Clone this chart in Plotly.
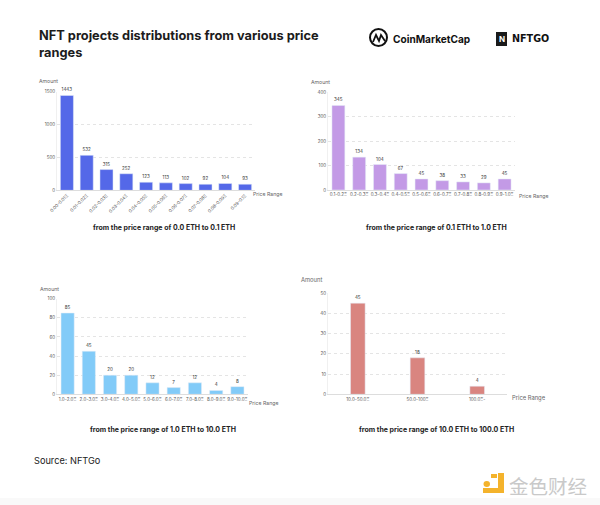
import plotly.graph_objects as go

cats1 = ["0.00-0.01Ξ","0.01-0.02Ξ","0.02-0.03Ξ","0.03-0.04Ξ","0.04-0.05Ξ","0.05-0.06Ξ","0.06-0.07Ξ","0.07-0.08Ξ","0.08-0.09Ξ","0.09-0.1Ξ"]
vals1 = [1443,532,315,252,123,113,102,92,104,93]
cats2 = ["0.1-0.2Ξ","0.2-0.3Ξ","0.3-0.4Ξ","0.4-0.5Ξ","0.5-0.6Ξ","0.6-0.7Ξ","0.7-0.8Ξ","0.8-0.9Ξ","0.9-1.0Ξ"]
vals2 = [345,134,104,67,45,38,33,29,45]
cats3 = ["1.0-2.0Ξ","2.0-3.0Ξ","3.0-4.0Ξ","4.0-5.0Ξ","5.0-6.0Ξ","6.0-7.0Ξ","7.0-8.0Ξ","8.0-9.0Ξ","9.0-10.0Ξ"]
vals3 = [85,45,20,20,12,7,12,4,8]
cats4 = ["10.0-50.0Ξ","50.0-100Ξ","100.0Ξ-"]
vals4 = [45,18,4]
subtitles = ["from the price range of 0.0 ETH to 0.1 ETH","from the price range of 0.1 ETH to 1.0 ETH",
             "from the price range of 1.0 ETH to 10.0 ETH","from the price range of 10.0 ETH to 100.0 ETH"]

W, H = 600, 505
FONT = "Inter, Noto Sans, sans-serif"
TXT = "#333"
panels = [
    dict(c=cats1, v=vals1, col="#5468E8", x=(57,255), y=(91.7,190.3), top=1500, dt=500, rot=-45, gap=0.34, sub=(164,228), amt=(48,80.7), pr=(268,194), ls=5.2),
    dict(c=cats2, v=vals2, col="#C39AE6", x=(328,515), y=(92,190), top=400, dt=100, rot=0, gap=0.38, sub=(436.5,228), amt=(320,82.3), pr=(534,195.7), ls=5.2),
    dict(c=cats3, v=vals3, col="#82CBF8", x=(57,248), y=(298.7,394.3), top=100, dt=20, rot=0, gap=0.38, sub=(163,429.5), amt=(49,289), pr=(264.4,403), ls=5.2),
    dict(c=cats4, v=vals4, col="#D98580", x=(328,507), y=(293,394.3), top=50, dt=10, rot=0, gap=0.755, sub=(436,429.5), amt=(311,279), pr=(528.5,398), ls=5.8),
]

fig = go.Figure()
ann = []
for i, p in enumerate(panels):
    s = "" if i == 0 else str(i + 1)
    fig.add_trace(go.Bar(x=p["c"], y=p["v"], xaxis="x" + s, yaxis="y" + s, marker_color=p["col"],
                         text=p["v"], textposition="outside", cliponaxis=False,
                         textfont=dict(size=4.5, color=TXT, family=FONT), showlegend=False, width=1 - p["gap"]))
    fig.layout["xaxis" + s] = dict(domain=[p["x"][0] / W, p["x"][1] / W], anchor="y" + s, type="category",
        automargin=False, showline=True, linecolor="#dddddd", linewidth=1, ticks="", tickangle=p["rot"],
        tickfont=dict(size=4.5, color="#555", family=FONT), showgrid=False)
    fig.layout["yaxis" + s] = dict(domain=[1 - p["y"][1] / H, 1 - p["y"][0] / H], anchor="x" + s,
        automargin=False, range=[0, p["top"]], dtick=p["dt"], showgrid=True, griddash="dot", gridcolor="#e4e4e4", gridwidth=0.7,
        zeroline=False, showline=True, linecolor="#f0f0f0", ticks="",
        tickfont=dict(size=4.5, color="#555", family=FONT))
    for txt, (ax, ay), size, col, bold in [(subtitles[i], p["sub"], 7.0, "#222", True),
                                           ("Amount", p["amt"], p["ls"], "#666", False),
                                           ("Price Range", p["pr"], p["ls"], "#666", False)]:
        ann.append(dict(text=f"<b>{txt}</b>" if bold else txt, x=ax / W, y=1 - ay / H, xref="paper", yref="paper",
                        showarrow=False, xanchor="center", yanchor="middle", font=dict(size=size, color=col, family=FONT)))

ann += [
    dict(text="<b>NFT projects distributions from various price<br>ranges</b>", x=37 / W, y=1 - 44 / H, xref="paper", yref="paper",
         showarrow=False, xanchor="left", yanchor="middle", align="left", font=dict(size=12.8, color="#1c1c1c", family=FONT)),
    dict(text="<b>CoinMarketCap</b>", x=390.5 / W, y=1 - 39 / H, xref="paper", yref="paper", showarrow=False,
         xanchor="left", yanchor="middle", font=dict(size=10.1, color="#111", family=FONT)),
    dict(text="<b>NFTGO</b>", x=510 / W, y=1 - 39 / H, xref="paper", yref="paper", showarrow=False,
         xanchor="left", yanchor="middle", font=dict(size=9.6, color="#111", family="DejaVu Sans")),
    dict(text="<b>N</b>", x=501.5 / W, y=1 - 39 / H, xref="paper", yref="paper", showarrow=False,
         xanchor="center", yanchor="middle", font=dict(size=8, color="#fff", family=FONT)),
    dict(text="Source: NFTGo", x=32 / W, y=1 - 460 / H, xref="paper", yref="paper", showarrow=False,
         xanchor="left", yanchor="middle", font=dict(size=9.2, color="#222", family=FONT)),
    dict(text="金色财经", x=507 / W, y=1 - 485 / H, xref="paper", yref="paper", showarrow=False,
         xanchor="left", yanchor="middle", font=dict(size=19.5, color="#c9c9c9", family="Noto Sans CJK SC")),
]
def px(x): return x / W
def py(y): return 1 - y / H
m_path = "M %f %f L %f %f L %f %f L %f %f L %f %f" % (px(373), py(42), px(376), py(35), px(379), py(41), px(381), py(35), px(385), py(41))
shapes = [
    dict(type="rect", xref="paper", yref="paper", x0=0, x1=1, y0=0, y1=py(498), fillcolor="#f9f9f9", line_width=0, layer="below"),
    dict(type="rect", xref="paper", yref="paper", x0=px(496), x1=px(507), y0=py(46), y1=py(32), fillcolor="#1a1a1a", line_width=0),
    dict(type="circle", xref="paper", yref="paper", x0=px(370), x1=px(387), y0=py(46), y1=py(29), line=dict(color="#111", width=2)),
    dict(type="path", xref="paper", yref="paper", path=m_path, line=dict(color="#111", width=1.8)),
    dict(type="rect", xref="paper", yref="paper", x0=px(483), x1=px(504), y0=py(493), y1=py(473), fillcolor="#F4B32C", line_width=0),
    dict(type="rect", xref="paper", yref="paper", x0=px(483), x1=px(498), y0=py(488), y1=py(470), fillcolor="#ffffff", line_width=0),
    dict(type="rect", xref="paper", yref="paper", x0=px(491), x1=px(497), y0=py(478), y1=py(474), fillcolor="#F4B32C", line_width=0),
    dict(type="circle", xref="paper", yref="paper", x0=px(483.5), x1=px(490), y0=py(487), y1=py(481), fillcolor="#F4B32C", line_width=0),
]
fig.update_layout(width=W, height=H, margin=dict(l=0, r=0, t=0, b=0), paper_bgcolor="#fff", plot_bgcolor="#fff",
                  annotations=ann, shapes=shapes, font=dict(family=FONT))
fig.write_html("out.html", config=dict(displayModeBar=False), post_script="document.body.style.margin='0';")
